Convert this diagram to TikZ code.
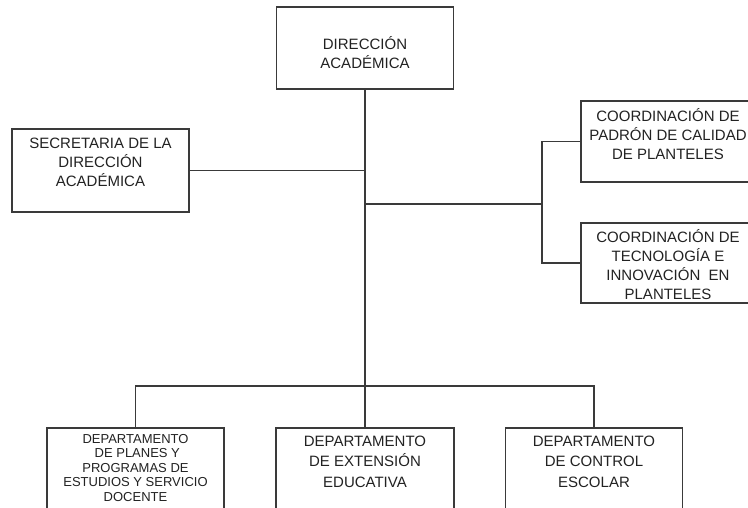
\documentclass[tikz,border=0pt]{standalone}
\usepackage{fontspec}
\setmainfont{Liberation Sans}
\definecolor{linec}{HTML}{3A3A3A}
\definecolor{txtc}{HTML}{222222}
\tikzset{
  box/.style={draw=linec, line width=1.1pt, inner sep=0pt, fill=white},
  conn/.style={draw=linec, line width=1.1pt},
  big/.style={font=\fontsize{15pt}{19pt}\selectfont, text=txtc, align=center, inner sep=0pt},
  bigw/.style={font=\fontsize{15pt}{20.5pt}\selectfont, text=txtc, align=center, inner sep=0pt},
  small/.style={font=\fontsize{13pt}{14.5pt}\selectfont, text=txtc, align=center, inner sep=0pt},
}
\begin{document}
\begin{tikzpicture}[x=1pt,y=-1pt]
\useasboundingbox (0,0) rectangle (748,508);
\fill[white] (0,0) rectangle (748,508);
\clip (0,0) rectangle (748,508);

% boxes
\node[box, minimum width=177pt, minimum height=82pt,
  label={[big, yshift=-4.5pt]center:DIRECCIÓN\\ACADÉMICA}] (dir) at (365,48) {};
\node[box, minimum width=177pt, minimum height=83pt,
  label={[big, yshift=8.5pt]center:SECRETARIA DE LA\\DIRECCIÓN\\ACADÉMICA}] (sec) at (100.5,170.5) {};
\node[box, minimum width=174pt, minimum height=81pt,
  label={[big, yshift=7.5pt]center:COORDINACIÓN DE\\PADRÓN DE CALIDAD\\DE PLANTELES}] (co1) at (668,141.5) {};
\node[box, minimum width=174pt, minimum height=80pt,
  label={[big, yshift=-1.5pt]center:COORDINACIÓN DE\\TECNOLOGÍA E\\INNOVACIÓN\ \ EN\\PLANTELES}] (co2) at (668,263) {};

\node[box, minimum width=177pt, minimum height=92pt,
  label={[small, yshift=6pt]center:DEPARTAMENTO\\\ DE PLANES Y\\PROGRAMAS DE\\ESTUDIOS Y SERVICIO\\DOCENTE}] (d1) at (135.5,474) {};
\node[box, minimum width=178pt, minimum height=92pt,
  label={[bigw, yshift=12.5pt]center:DEPARTAMENTO\\DE EXTENSIÓN\\EDUCATIVA}] (d2) at (365,474) {};
\node[box, minimum width=177pt, minimum height=92pt,
  label={[bigw, yshift=12.5pt]center:DEPARTAMENTO\\DE CONTROL\\ESCOLAR}] (d3) at (594,474) {};

% connector points
\coordinate (tsec) at (365,171);
\coordinate (tmid) at (365,204);
\coordinate (brk) at (542,204);
\coordinate (bot) at (365,386);

% connectors
\draw[conn] (dir.south) -- (d2.north);
\draw[conn] (sec.east) -- (sec.east -| dir.south);
\draw[conn] (tmid) -- (brk);
\draw[conn] (co1.west) -| (brk) |- (co2.west);
\draw[conn] (d1.north) |- (bot) -| (d3.north);
\end{tikzpicture}
\end{document}
